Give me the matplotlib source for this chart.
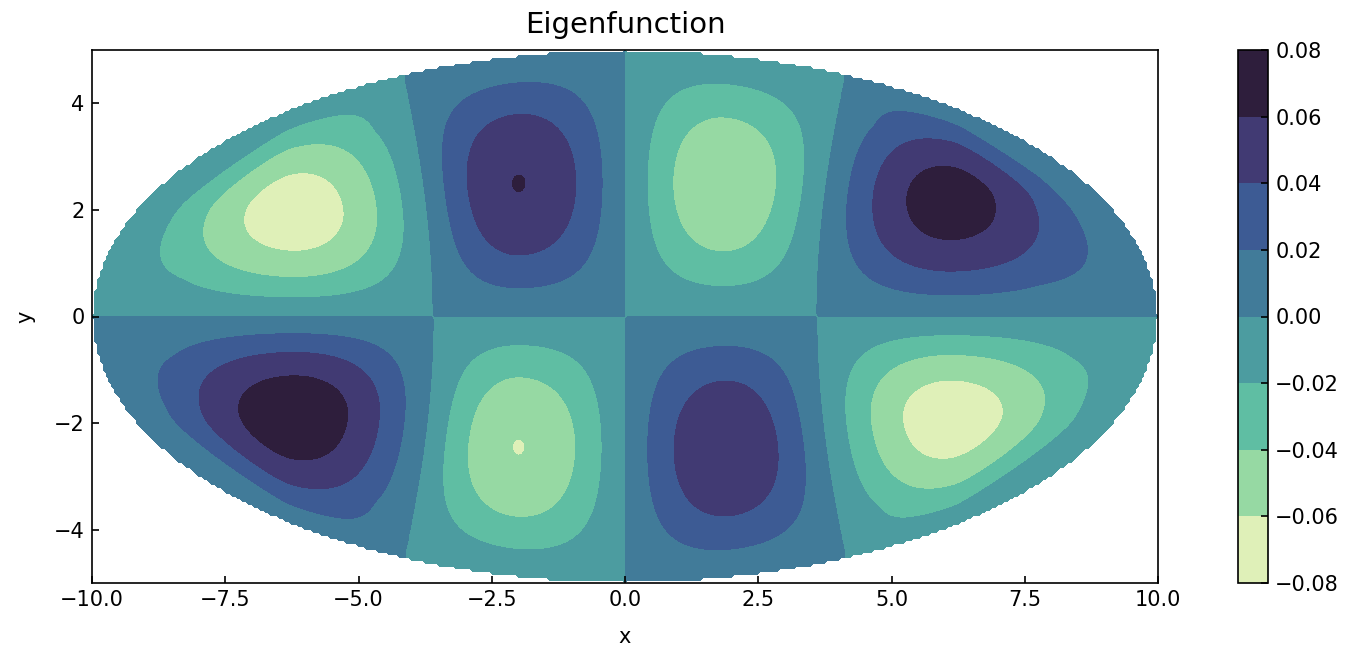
import numpy as np
import matplotlib
matplotlib.use("Agg")
import matplotlib.pyplot as plt
from matplotlib.colors import ListedColormap

# Ellipse domain (semi-axes)
semi_a = 10.0
semi_b = 5.0

# x positions where the nodal lines cross y = 0 (left to right)
node_x = [-3.6, 0.0, 3.6]

# Lobe peaks, left to right
upper_x = [-6.2, -2.0, 1.85, 6.1]
upper_y = [1.95, 2.5, 2.5, 2.2]
upper_peak = [-0.072, 0.0603, -0.058, 0.070]
lower_x = [-6.2, -2.0, 1.9, 6.1]
lower_y = [-1.85, -2.45, -2.5, -1.9]
lower_peak = [0.074, -0.0603, 0.058, -0.072]

# how quickly the outer lobes fade towards the ends of the ellipse
fade_left = [1.25, 1.0, 1.0, 1.0]
fade_right = [1.0, 1.0, 1.0, 1.25]

levels = [-0.08, -0.06, -0.04, -0.02, 0.00, 0.02, 0.04, 0.06, 0.08]
band_colors = ["#dff0b8", "#96d9a3", "#5fbea3", "#4c9ca0",
               "#417b99", "#3d5b94", "#413a73", "#2e1e3c"]

focal = np.sqrt(semi_a**2 - semi_b**2)


def node_line(x0, y):
    """Confocal hyperbola through (x0, 0)."""
    if x0 == 0:
        return np.zeros_like(y)
    spread = np.sqrt(focal**2 - x0**2)
    return x0 * np.sqrt(1 + (y / spread) ** 2)


def hump_coord(t, lo, hi, peak, g_lo=1.0, g_hi=1.0):
    """Map [lo, peak, hi] -> [0, 0.5, 1], keeping the peak off the edges."""
    span = np.maximum(hi - lo, 1e-9)
    peak = np.clip(peak, lo + 0.3 * span, hi - 0.3 * span)
    s_lo = np.clip((t - lo) / np.maximum(peak - lo, 1e-9), 0, 1)
    s_hi = np.clip((hi - t) / np.maximum(hi - peak, 1e-9), 0, 1)
    return np.where(t < peak, 0.5 * s_lo ** g_lo, 1 - 0.5 * s_hi ** g_hi)


xs = np.linspace(-semi_a, semi_a, 381)
ys = np.linspace(-semi_b, semi_b, 191)
X, Y = np.meshgrid(xs, ys)
Yabs = np.abs(Y)
upper = Y >= 0

inside = (X / semi_a) ** 2 + (Y / semi_b) ** 2 <= 1.0
half_h = semi_b * np.sqrt(np.clip(1 - (X / semi_a) ** 2, 1e-9, None))
edge_x = semi_a * np.sqrt(np.clip(1 - (Yabs / semi_b) ** 2, 0, None))

bounds = [-edge_x] + [node_line(x0, Yabs) for x0 in node_x] + [edge_x]
lobe_idx = np.zeros(X.shape, dtype=int)
for k in range(1, 4):
    lobe_idx += (X > bounds[k]).astype(int)
lobe_idx = np.clip(lobe_idx, 0, 3)
left = np.choose(lobe_idx, bounds[:4])
right = np.choose(lobe_idx, bounds[1:])

peak_x = np.where(upper, np.array(upper_x)[lobe_idx], np.array(lower_x)[lobe_idx])
peak_y = np.where(upper, np.array(upper_y)[lobe_idx], -np.array(lower_y)[lobe_idx])
amp = np.where(upper, np.array(upper_peak)[lobe_idx], np.array(lower_peak)[lobe_idx])

u = hump_coord(X, left, right, peak_x,
               np.array(fade_left)[lobe_idx], np.array(fade_right)[lobe_idx])
v = hump_coord(Yabs, 0.0, half_h, peak_y)
Z = amp * np.sin(np.pi * u) * np.sin(np.pi * v)
Z = np.ma.masked_where(~inside, Z)

cmap = ListedColormap(band_colors)

fig = plt.figure(figsize=(1352 / 150, 647 / 150), dpi=150)
ax = fig.add_axes([92 / 1352, 1 - 583 / 647, 1066 / 1352, 533 / 647])
cax = fig.add_axes([1238 / 1352, 1 - 583 / 647, 30 / 1352, 533 / 647])

cs = ax.contourf(X, Y, Z, levels=levels, cmap=cmap)
ax.set_xlim(-10, 10)
ax.set_ylim(-5, 5)
ax.set_aspect("equal")
ax.set_title("Eigenfunction", fontsize=14, pad=8)
ax.set_xlabel("x", fontsize=10, labelpad=8)
ax.set_ylabel("y", fontsize=10, labelpad=9)
ax.tick_params(direction="in", labelsize=10)

cbar = fig.colorbar(cs, cax=cax, ticks=levels)
cbar.ax.tick_params(direction="in", labelsize=10)

fig.savefig("out.png", dpi=150)
